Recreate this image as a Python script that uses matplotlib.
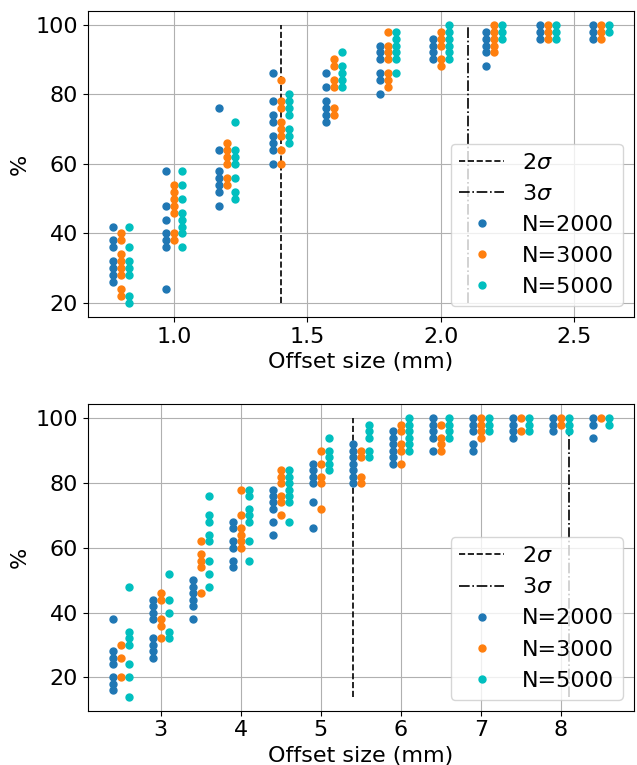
import numpy as np
import matplotlib
matplotlib.use('Agg')
import matplotlib.pyplot as plt

plt.rcParams['font.size'] = 16

# ---- top panel data (offset in mm, % per trial) ----
top_sizes = [0.8, 1.0, 1.2, 1.4, 1.6, 1.8, 2.0, 2.2, 2.4, 2.6]
top_n2000 = [
    [42, 38, 36, 32, 30, 28, 26],
    [58, 48, 44, 40, 38, 36, 24],
    [76, 64, 58, 56, 54, 52, 48],
    [86, 78, 74, 72, 68, 66, 64, 60],
    [86, 82, 78, 76, 74, 72],
    [94, 92, 90, 86, 84, 80],
    [96, 94, 92, 90],
    [98, 96, 94, 92, 88],
    [100, 98, 96],
    [100, 98, 96],
]
top_n3000 = [
    [40, 38, 34, 32, 30, 28, 24, 22],
    [54, 52, 50, 48, 46, 40, 38],
    [66, 64, 62, 60, 56, 54],
    [84, 78, 76, 72, 70, 68, 64, 60],
    [90, 88, 84, 82, 76, 74],
    [98, 94, 92, 90, 86, 84, 82],
    [98, 96, 94, 90, 88],
    [100, 98, 96, 94, 92],
    [100, 98, 96],
    [100, 98, 96],
]
top_n5000 = [
    [42, 36, 32, 30, 28, 22, 20],
    [58, 54, 50, 46, 44, 42, 40, 36],
    [72, 64, 62, 60, 56, 52, 50],
    [80, 78, 76, 74, 70, 68, 66],
    [92, 88, 86, 84, 82],
    [98, 96, 94, 92, 90, 86],
    [100, 98, 96, 94, 92, 90],
    [100, 98, 96],
    [100, 98, 96],
    [100, 98],
]
top_sigma2 = 1.4
top_sigma3 = 2.1

# ---- bottom panel data ----
bot_sizes = [2.5, 3.0, 3.5, 4.0, 4.5, 5.0, 5.5, 6.0, 6.5, 7.0, 7.5, 8.0, 8.5]
bot_n2000 = [
    [38, 28, 26, 24, 20, 18, 16],
    [44, 42, 40, 38, 32, 30, 28, 26],
    [50, 48, 46, 44, 42, 38],
    [68, 66, 62, 60, 56, 54],
    [78, 76, 74, 72, 68, 64],
    [86, 84, 82, 80, 74, 66],
    [92, 90, 88, 86, 84, 82, 80],
    [96, 94, 92, 90, 88, 86],
    [100, 98, 96, 94, 90],
    [100, 98, 96, 92, 90],
    [100, 98, 96, 94],
    [100, 98, 96],
    [100, 98, 94],
]
bot_n3000 = [
    [30, 26, 20],
    [46, 44, 38, 36, 32],
    [62, 58, 56, 54, 46],
    [78, 70, 66, 64, 62, 60],
    [84, 82, 80, 76, 74, 70],
    [90, 86, 82, 80, 72],
    [90, 88, 82, 80],
    [98, 96, 92, 90, 86],
    [98, 94, 92, 90],
    [100, 98, 96, 94],
    [100, 96],
    [100, 98],
    [100],
]
bot_n5000 = [
    [48, 34, 32, 30, 24, 20, 14],
    [52, 44, 40, 34, 32],
    [76, 70, 68, 64, 62, 56, 52, 48],
    [78, 76, 72, 70, 68, 62, 56],
    [84, 82, 80, 78, 76, 74, 68],
    [94, 90, 88, 86, 84],
    [98, 96, 94, 90, 88],
    [100, 98, 96, 94, 92, 90],
    [100, 98, 96, 94],
    [100, 98, 96],
    [100, 98, 96],
    [100, 98, 96],
    [100, 98],
]
bot_sigma2 = 5.4
bot_sigma3 = 8.1

colors = ['#1f77b4', '#ff7f0e', 'c']
labels = ['N=2000', 'N=3000', 'N=5000']


def draw_panel(ax, sizes, series, shift, s2, s3):
    all_vals = [v for ser in series for grp in ser for v in grp]
    ymin = min(all_vals)
    ax.vlines(s2, ymin, 100, colors='k', linestyles='--', linewidth=1.2, label=r'2$\sigma$')
    ax.vlines(s3, ymin, 100, colors='k', linestyles='-.', linewidth=1.2, label=r'3$\sigma$')
    for k, ser in enumerate(series):
        xs, ys = [], []
        for x, grp in zip(sizes, ser):
            xs += [x + (k - 1) * shift] * len(grp)
            ys += grp
        ax.plot(xs, ys, 'o', ms=5, color=colors[k], label=labels[k], linestyle='none')
    ax.grid(True)
    ax.set_axisbelow(True)
    ax.set_xlabel('Offset size (mm)')
    ax.set_ylabel('%')
    ax.legend(loc='lower right')


fig, axs = plt.subplots(2, 1, figsize=(6.37, 7.65), dpi=100)
draw_panel(axs[0], top_sizes, [top_n2000, top_n3000, top_n5000], 0.03, top_sigma2, top_sigma3)
draw_panel(axs[1], bot_sizes, [bot_n2000, bot_n3000, bot_n5000], 0.1, bot_sigma2, bot_sigma3)
axs[0].set_xticks([1.0, 1.5, 2.0, 2.5])
axs[1].set_xticks([3, 4, 5, 6, 7, 8])

fig.subplots_adjust(left=0.138, right=0.995, top=0.986, bottom=0.071, hspace=0.285)
fig.savefig('out.png', dpi=100)
